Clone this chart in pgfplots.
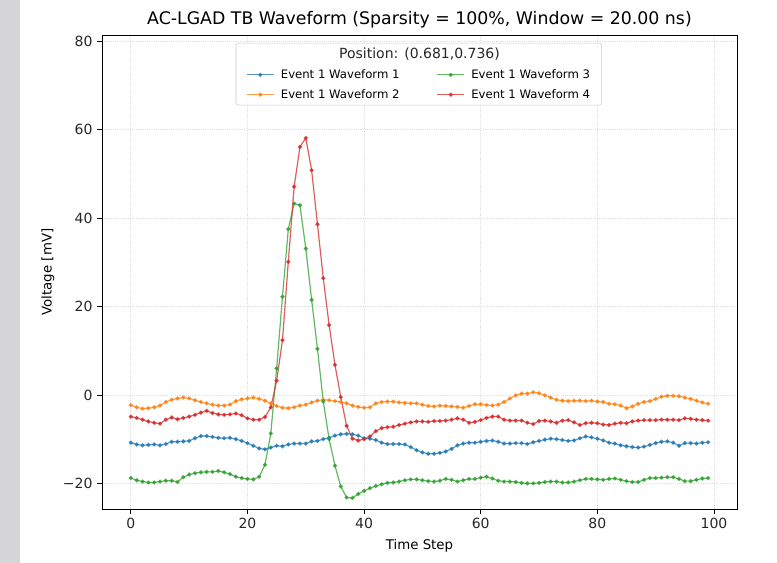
\documentclass[border=0pt]{standalone}
\usepackage{fontspec}
\setmainfont{DejaVu Sans}
\usepackage{pgfplots}
\usepackage{pgfplotstable}
\pgfplotsset{compat=1.18}

\definecolor{tabblue}{HTML}{1F77B4}
\definecolor{taborange}{HTML}{FF7F0E}
\definecolor{tabgreen}{HTML}{2CA02C}
\definecolor{tabred}{HTML}{D62728}
\definecolor{strip}{HTML}{D6D6D9}

% time step, waveform 1..4 (mV)
\pgfplotstableread{
x w1 w2 w3 w4
0 -10.8 -2.3 -18.8 -4.9
1 -11.2 -2.8 -19.3 -5.2
2 -11.4 -3.1 -19.6 -5.6
3 -11.3 -3.0 -19.8 -6.0
4 -11.2 -2.8 -19.8 -6.3
5 -11.4 -2.4 -19.6 -6.5
6 -11.1 -1.6 -19.4 -5.6
7 -10.6 -1.1 -19.4 -5.1
8 -10.6 -0.8 -19.7 -5.5
9 -10.5 -0.6 -18.6 -5.2
10 -10.4 -0.8 -18.0 -4.9
11 -9.8 -1.2 -17.7 -4.5
12 -9.3 -1.6 -17.5 -4.0
13 -9.3 -1.9 -17.4 -3.6
14 -9.5 -2.2 -17.4 -4.1
15 -9.7 -2.4 -17.2 -4.4
16 -9.8 -2.4 -17.5 -4.5
17 -9.7 -2.2 -17.9 -4.4
18 -10.0 -1.4 -18.5 -4.2
19 -10.4 -1.0 -18.8 -4.6
20 -10.9 -0.8 -19.0 -5.3
21 -11.5 -0.6 -19.1 -5.6
22 -12.1 -0.9 -18.5 -5.6
23 -12.3 -1.3 -15.8 -5.0
24 -11.9 -1.9 -8.7 -2.8
25 -11.5 -2.5 6.0 3.2
26 -11.6 -2.9 22.2 12.4
27 -11.2 -3.0 37.5 30.1
28 -11.0 -2.8 43.3 47.1
29 -11.0 -2.4 42.9 56.1
30 -11.0 -2.2 33.1 58.1
31 -10.5 -1.7 21.5 50.8
32 -10.4 -1.3 10.4 38.6
33 -10.0 -1.1 -1.5 26.4
34 -9.7 -1.2 -10.0 15.8
35 -9.2 -1.4 -16.0 6.8
36 -8.9 -1.6 -20.7 -0.5
37 -8.8 -1.9 -23.2 -7.0
38 -8.9 -2.4 -23.3 -9.9
39 -9.2 -2.7 -22.4 -10.3
40 -9.8 -2.9 -21.7 -10.0
41 -9.9 -2.8 -21.1 -9.4
42 -10.2 -1.9 -20.6 -8.2
43 -10.8 -1.6 -20.2 -7.5
44 -11.1 -1.5 -19.9 -7.3
45 -11.1 -1.5 -19.8 -7.2
46 -11.1 -1.7 -19.6 -6.8
47 -11.2 -1.8 -19.3 -6.5
48 -11.8 -1.9 -19.1 -6.2
49 -12.5 -1.9 -19.1 -6.0
50 -13.0 -2.2 -19.3 -6.0
51 -13.3 -2.5 -19.5 -6.1
52 -13.3 -2.6 -19.6 -5.9
53 -13.1 -2.4 -19.4 -5.9
54 -12.8 -2.5 -19.0 -5.8
55 -12.2 -2.6 -19.2 -5.6
56 -11.4 -2.7 -19.6 -5.3
57 -11.0 -2.9 -19.3 -5.6
58 -10.8 -2.5 -19.0 -6.3
59 -10.8 -2.1 -19.0 -6.1
60 -10.6 -2.1 -18.7 -5.7
61 -10.4 -2.3 -18.5 -5.2
62 -10.3 -2.4 -18.9 -4.9
63 -10.6 -2.2 -19.4 -4.9
64 -11.0 -1.6 -19.6 -5.6
65 -11.0 -0.8 -19.6 -5.8
66 -10.9 -0.1 -19.7 -5.8
67 -10.9 0.3 -19.9 -5.8
68 -11.1 0.3 -20.0 -6.3
69 -10.7 0.6 -20.0 -6.6
70 -10.4 0.4 -19.9 -5.9
71 -10.1 -0.1 -19.7 -5.8
72 -9.9 -0.6 -19.6 -6.0
73 -10.0 -1.1 -19.6 -6.3
74 -10.2 -1.3 -19.8 -5.8
75 -10.4 -1.4 -19.8 -5.7
76 -10.3 -1.3 -19.6 -6.2
77 -9.8 -1.3 -19.3 -6.8
78 -9.4 -1.4 -19.0 -6.4
79 -9.6 -1.3 -19.0 -6.3
80 -9.9 -1.5 -19.1 -6.4
81 -10.3 -1.6 -19.2 -6.7
82 -10.8 -2.0 -19.0 -6.8
83 -11.0 -2.1 -18.9 -6.5
84 -11.4 -2.4 -19.2 -6.3
85 -11.6 -3.0 -19.5 -6.4
86 -11.8 -2.6 -19.7 -6.0
87 -11.9 -2.0 -19.7 -5.8
88 -11.7 -1.6 -19.2 -5.7
89 -11.3 -1.4 -18.8 -5.7
90 -10.9 -0.9 -18.8 -5.7
91 -10.6 -0.4 -18.7 -5.6
92 -10.5 -0.2 -18.6 -5.6
93 -10.8 -0.2 -18.6 -5.6
94 -11.5 -0.3 -19.0 -5.7
95 -10.9 -0.6 -19.5 -5.3
96 -10.9 -0.9 -19.5 -5.4
97 -11.0 -1.3 -19.2 -5.6
98 -10.8 -1.7 -18.9 -5.7
99 -10.7 -2.0 -18.8 -5.8
}\wavetable

\begin{document}
\begin{tikzpicture}
\path[use as bounding box] (0pt,0pt) rectangle (582.75pt,422.25pt);
\fill[strip] (0pt,0pt) rectangle (15pt,422.25pt);
\begin{axis}[
  at={(76.5pt,40.5pt)}, anchor=south west,
  width=476.25pt, height=355.5pt, scale only axis,
  xmin=-4.95, xmax=103.95, ymin=-25.8, ymax=81.4,
  xtick={0,20,...,100}, ytick={-20,0,...,80},
  xticklabels={0,20,40,60,80,100},
  yticklabels={−20,0,20,40,60,80},
  tick align=outside, xtick pos=bottom, ytick pos=left,
  major tick length=3.6pt,
  tick style={black, line width=0.6pt},
  axis line style={black, line width=0.6pt},
  grid=major, grid style={densely dotted, black!12, line width=0.6pt},
  ticklabel style={font=\fontsize{10.5}{12}\selectfont, text=black!85},
  label style={font=\fontsize{10.5}{12}\selectfont, text=black!85},
  every axis x label/.style={at={(axis description cs:0.5,-0.078)}, anchor=center},
  every axis y label/.style={at={(axis description cs:-0.085,0.5)}, rotate=90, anchor=center},
  xlabel={Time Step}, ylabel={Voltage [mV]},
  title={AC-LGAD TB Waveform (Sparsity = 100\%, Window = 20.00 ns)},
  title style={font=\fontsize{13}{15}\selectfont, at={(axis description cs:0.5,1.0148)}, anchor=center, yshift=0pt},
  legend columns=2, transpose legend,
  legend cell align=left,
  legend image code/.code={\draw[mark repeat=2,mark phase=2] plot coordinates {(0pt,0pt) (10pt,0pt) (20pt,0pt)};},
  legend style={draw=none, fill=none, at={(0.5,0.895)}, anchor=center,
    font=\fontsize{8.75}{10}\selectfont, row sep=2.7pt,
    /tikz/every odd column/.append style={column sep=3pt},
    /tikz/every even column/.append style={column sep=26pt}},
  every axis plot/.append style={line width=0.9pt, opacity=0.75, mark=*, mark size=1.1pt},
]
\filldraw[fill=white, fill opacity=0.8, draw=black!20, rounded corners=2pt]
  (rel axis cs:0.211,0.852) rectangle (rel axis cs:0.787,0.983);
\node[font=\fontsize{10.5}{12}\selectfont, text=black!85] at (rel axis cs:0.5,0.960) {Position: (0.681,0.736)};
\addplot[tabblue] table[x=x, y=w1] {\wavetable};
\addlegendentry{Event 1 Waveform 1}
\addplot[taborange] table[x=x, y=w2] {\wavetable};
\addlegendentry{Event 1 Waveform 2}
\addplot[tabgreen] table[x=x, y=w3] {\wavetable};
\addlegendentry{Event 1 Waveform 3}
\addplot[tabred] table[x=x, y=w4] {\wavetable};
\addlegendentry{Event 1 Waveform 4}
\end{axis}
\end{tikzpicture}
\end{document}
